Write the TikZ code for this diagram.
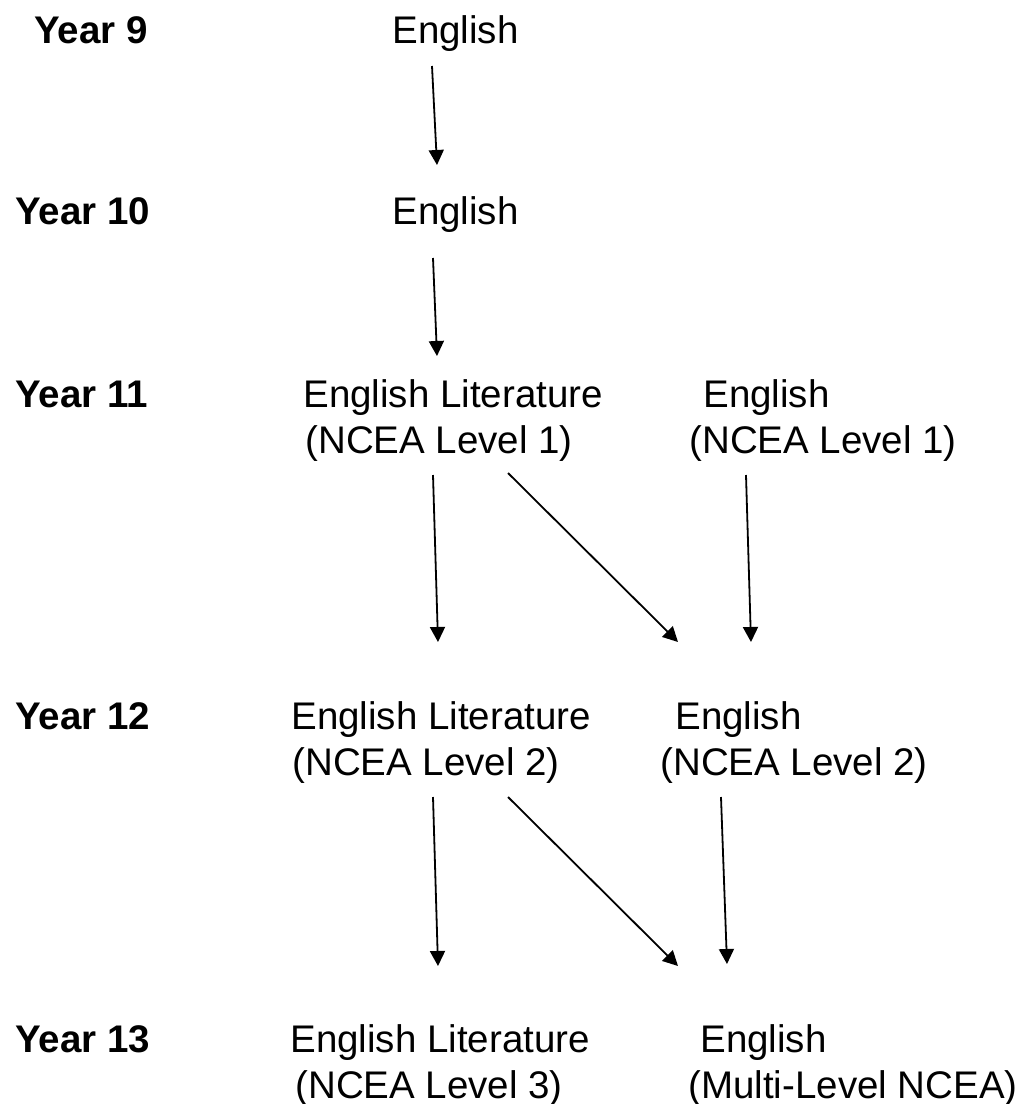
\documentclass[tikz,border=0pt]{standalone}
\usepackage{fontspec}
\setmainfont{Liberation Sans}
\usetikzlibrary{arrows.meta}

\begin{document}
\begin{tikzpicture}[
    x=0.5pt, y=-0.5pt,
    every node/.style={
        font=\fontsize{19.25pt}{23pt}\selectfont,
        inner sep=0pt,
        anchor=base west,
    },
    year/.style={
        font=\fontsize{19.25pt}{23pt}\selectfont\bfseries,
    },
    link/.style={
        -{Triangle[length=7.5pt,width=7.5pt]},
        line width=0.9pt,
    },
]
    \useasboundingbox (0,0) rectangle (1029,1104);

    \foreach \n/\xx/\yy in {9/34/43,10/15/224,11/15/407,12/15/729,13/15/1052} {
        \node[year] (yr\n) at (\xx,\yy) {Year \n};
    }

    \node (eng9) at (392,43) {English};
    \node (eng10) at (392,224) {English};

    \node (lit11) at (303,407) {English Literature};
    \node (lit11n) at (305,453) {(NCEA Level 1)};
    \node (eng11) at (703,407) {English};
    \node (eng11n) at (689,453) {(NCEA Level 1)};

    \node (lit12) at (291,729) {English Literature};
    \node (lit12n) at (292,775) {(NCEA Level 2)};
    \node (eng12) at (675,729) {English};
    \node (eng12n) at (660,775) {(NCEA Level 2)};

    \node (lit13) at (290,1052) {English Literature};
    \node (lit13n) at (295,1098) {(NCEA Level 3)};
    \node (eng13) at (700,1052) {English};
    \node (eng13n) at (688,1098) {(Multi-Level NCEA)};

    \draw[link] ([shift={(40,23)}]eng9.base west) -- ([shift={(45,-59)}]eng10.base west);
    \draw[link] ([shift={(41,34)}]eng10.base west) -- ([shift={(134,-51)}]lit11.base west);

    \draw[link] ([shift={(128,22)}]lit11n.base west) -- ([shift={(147,-87)}]lit12.base west);
    \draw[link] ([shift={(203,20)}]lit11n.base west) -- ([shift={(3,-87)}]eng12.base west);
    \draw[link] ([shift={(57,22)}]eng11n.base west) -- ([shift={(76,-87)}]eng12.base west);

    \draw[link] ([shift={(141,22)}]lit12n.base west) -- ([shift={(148,-86)}]lit13.base west);
    \draw[link] ([shift={(216,22)}]lit12n.base west) -- ([shift={(-22,-86)}]eng13.base west);
    \draw[link] ([shift={(61,22)}]eng12n.base west) -- ([shift={(27,-88)}]eng13.base west);
\end{tikzpicture}
\end{document}
